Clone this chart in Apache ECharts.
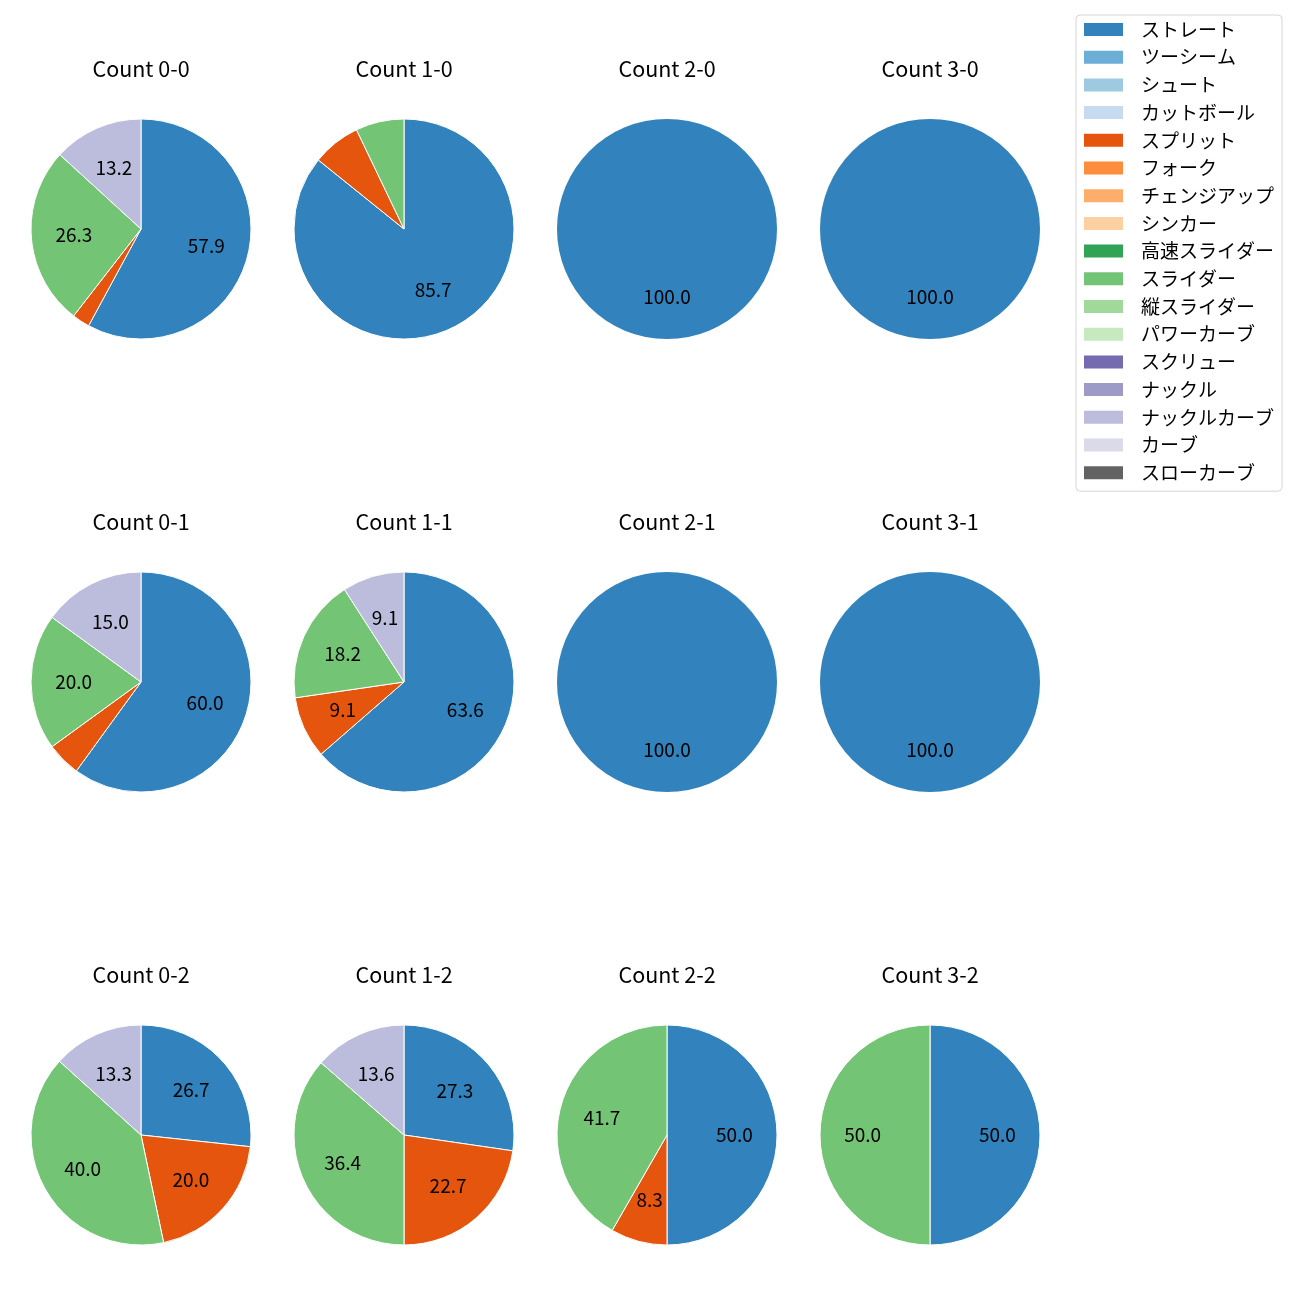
<!DOCTYPE html>
<html><head><meta charset="utf-8">
<script src="https://cdn.jsdelivr.net/npm/echarts@6/dist/echarts.min.js"></script>
<style>html,body{margin:0;padding:0;background:#fff}#c{width:1300px;height:1300px}</style>
</head><body><div id="c"></div>
<script>
const pitchTypes = ['ストレート','ツーシーム','シュート','カットボール','スプリット','フォーク','チェンジアップ','シンカー','高速スライダー','スライダー','縦スライダー','パワーカーブ','スクリュー','ナックル','ナックルカーブ','カーブ','スローカーブ'];
const typeColors = ['#3182bd','#6baed6','#9ecae1','#c6dbef','#e6550d','#fd8d3c','#fdae6b','#fdd0a2','#31a354','#74c476','#a1d99b','#c7e9c0','#756bb1','#9e9ac8','#bcbddc','#dadaeb','#636363'];
const countTitles = ['Count 0-0','Count 1-0','Count 2-0','Count 3-0','Count 0-1','Count 1-1','Count 2-1','Count 3-1','Count 0-2','Count 1-2','Count 2-2','Count 3-2'];
// percentages per count, in pitchTypes order: ストレート, スプリット, スライダー, ナックルカーブ
const straight     = [57.9, 85.7, 100, 100, 60.0, 63.6, 100, 100, 26.7, 27.3, 50.0, 50.0];
const split        = [2.6,  7.1,  0,   0,   5.0,  9.1,  0,   0,   20.0, 22.7, 8.3,  0];
const slider       = [26.3, 7.1,  0,   0,   20.0, 18.2, 0,   0,   40.0, 36.4, 41.7, 50.0];
const knuckleCurve = [13.2, 0,    0,   0,   15.0, 9.1,  0,   0,   13.3, 13.6, 0,    0];

const colX = [141, 404, 667, 930];
const rowY = [229, 682, 1135];
const R = 110;
const FONT = '"Noto Sans CJK JP", "Noto Sans", sans-serif';

const chart = echarts.init(document.getElementById('c'), null, {renderer:'canvas'});
const series = [];
const titles = [];
// legend provider
series.push({type:'pie', radius:[0,0], center:[-100,-100], silent:true, label:{show:false},
  data: pitchTypes.map((n,i)=>({name:n, value:1, itemStyle:{color:typeColors[i]}}))});

countTitles.forEach((t, k) => {
  const cx = colX[k % 4], cy = rowY[Math.floor(k / 4)];
  const vals = [[0, straight[k]], [4, split[k]], [9, slider[k]], [14, knuckleCurve[k]]].filter(d => d[1] > 0);
  const data = vals.map(d => ({name: pitchTypes[d[0]], value: d[1], itemStyle:{color: typeColors[d[0]]}}));
  titles.push({text: t, left: cx, top: cy - 171, textAlign:'center', padding:0,
    textStyle:{fontFamily: FONT, fontSize: 21.5, fontWeight:'normal', color:'#000'}});
  series.push({type:'pie', radius:[0, R], center:[cx, cy], startAngle:90, clockwise:true,
    silent:true, animation:false, label:{show:false}, labelLine:{show:false},
    itemStyle:{borderColor:'#fff', borderWidth: vals.length > 1 ? 1 : 0}, data: data});
  series.push({type:'pie', radius:[0, R * 1.17], center:[cx, cy], startAngle:90, clockwise:true,
    silent:true, animation:false, z: 5, labelLine:{show:false},
    itemStyle:{color:'rgba(0,0,0,0)'},
    label:{show:true, position:'inside', fontFamily: FONT, fontSize: 19, color:'#000',
      formatter: p => p.value >= 8 ? p.value.toFixed(1) : ''},
    data: vals.map(d => ({name: pitchTypes[d[0]], value: d[1], itemStyle:{color:'rgba(0,0,0,0)'}}))});
});

chart.setOption({
  animation:false,
  title: titles,
  legend: {orient:'vertical', left:1076, top:15, data: pitchTypes, icon:'rect',
    itemWidth:39, itemHeight:13, itemGap:8.7, padding:[5,8,9,8],
    backgroundColor:'#fff', borderColor:'#d6d6d6', borderWidth:1, borderRadius:4,
    selectedMode:false,
    textStyle:{fontFamily: FONT, fontSize: 19, color:'#000', width:134, padding:[0,0,0,13]}},
  series: series
});
</script></body></html>
